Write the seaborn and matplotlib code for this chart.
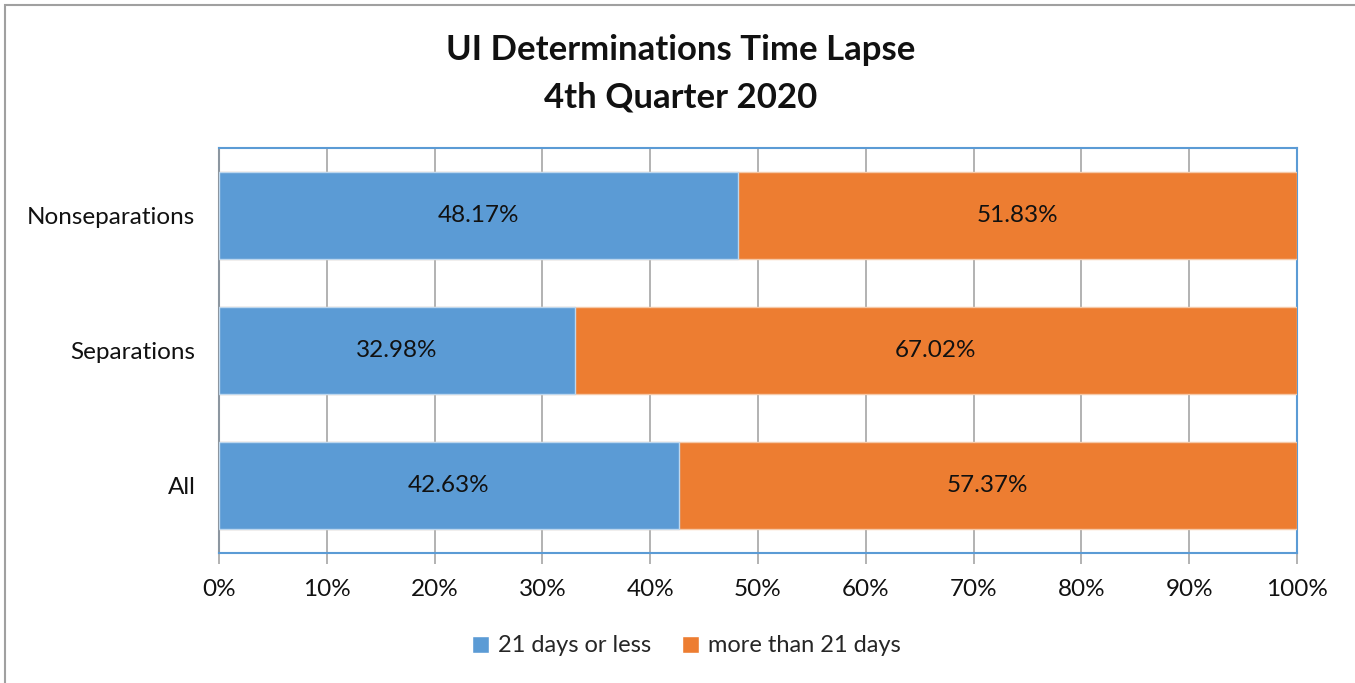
import matplotlib
matplotlib.use("Agg")
import matplotlib.pyplot as plt
import seaborn as sns
import pandas as pd
from matplotlib.patches import Patch, Rectangle
from matplotlib.ticker import PercentFormatter

categories = ["Nonseparations", "Separations", "All"]
within_21 = [48.17, 32.98, 42.63]
over_21 = [51.83, 67.02, 57.37]
series_names = ["21 days or less", "more than 21 days"]

blue = "#5B9BD5"
orange = "#ED7D31"

df = pd.DataFrame({"category": categories, "within": within_21, "over": over_21})
df["total"] = df["within"] + df["over"]

sns.set_theme(style="white")
plt.rcParams["font.family"] = ["Lato", "DejaVu Sans"]

fig = plt.figure(figsize=(13.55, 6.83), dpi=100)
ax = fig.add_axes([219 / 1355, 1 - 553 / 683, (1297 - 219) / 1355, (553 - 148) / 683])

# stacked bars: full length in orange, blue part drawn on top
sns.barplot(data=df, x="total", y="category", order=categories, color=orange,
            saturation=1, width=0.64, edgecolor="#F5C9A8", linewidth=1, ax=ax, zorder=3)
sns.barplot(data=df, x="within", y="category", order=categories, color=blue,
            saturation=1, width=0.64, edgecolor="#BDD7EE", linewidth=1, ax=ax, zorder=4)

# data labels centred in each segment
for i, (w, o) in enumerate(zip(within_21, over_21)):
    ax.text(w / 2, i, f"{w:.2f}%", ha="center", va="center", fontsize=17.5, color="#111111", zorder=5)
    ax.text(w + o / 2, i, f"{o:.2f}%", ha="center", va="center", fontsize=17.5, color="#111111", zorder=5)

ax.set_xlim(0, 100)
ax.set_ylim(2.5, -0.5)
ax.set_xticks(range(0, 101, 10))
ax.xaxis.set_major_formatter(PercentFormatter(decimals=0))
ax.grid(axis="x", color="#A6A6A6", linewidth=1.2, zorder=0)
ax.set_axisbelow(True)
ax.set_xlabel("")
ax.set_ylabel("")

ax.tick_params(axis="x", which="major", bottom=True, length=8, width=1.2, color="#A6A6A6",
               labelsize=17.5, pad=11, labelcolor="#111111")
ax.tick_params(axis="y", left=False, labelsize=17.5, pad=11, labelcolor="#111111")

for side in ["top", "right", "bottom"]:
    ax.spines[side].set_color(blue)
    ax.spines[side].set_linewidth(1.5)
ax.spines["left"].set_color("#8C96A0")
ax.spines["left"].set_linewidth(1.5)

fig.text(681 / 1355, 1 - 50 / 683, "UI Determinations Time Lapse", ha="center", va="center",
         fontsize=25, fontweight="bold", color="#111111")
fig.text(681 / 1355, 1 - 97 / 683, "4th Quarter 2020", ha="center", va="center",
         fontsize=25, fontweight="bold", color="#111111")

handles = [Patch(facecolor=blue, label=series_names[0]), Patch(facecolor=orange, label=series_names[1])]
fig.legend(handles=handles, loc="center", bbox_to_anchor=(686 / 1355, 1 - 646 / 683), ncol=2,
           frameon=False, fontsize=17, handlelength=0.75, handleheight=0.75, handletextpad=0.35,
           columnspacing=1.3)

# outer chart border
fig.patches.append(Rectangle((5 / 1355, -0.05), 1.1, 1 - 4.5 / 683 + 0.05, transform=fig.transFigure,
                             fill=False, edgecolor="#A0A0A0", linewidth=1.5, clip_on=False))

fig.savefig("out.png", dpi=100)
